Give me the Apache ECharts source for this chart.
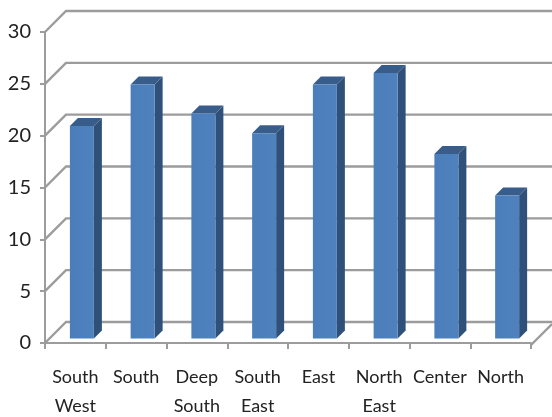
<!DOCTYPE html>
<html>
<head>
<meta charset="utf-8">
<style>html,body{margin:0;padding:0;background:#fff}#chart{width:552px;height:417px}</style>
<script src="https://cdn.jsdelivr.net/npm/echarts@6/dist/echarts.min.js"></script>
</head>
<body>
<div id="chart"></div>
<script>
// Regional values shown as pseudo-3D columns
const categories = ['South\nWest', 'South', 'Deep\nSouth', 'South\nEast', 'East', 'North\nEast', 'Center', 'North'];
const values = [20.5, 24.5, 21.7, 19.8, 24.5, 25.6, 17.8, 13.8];
const gridTicks = [0, 5, 10, 15, 20, 25, 30];

const WALL_DX = 21, WALL_DY = -21;   // offset of the back wall from the axis plane
const BAR_DX = 6.5, BAR_DY = -4.5;   // offset of the columns from the axis plane
const BAR_W = 24, BAR_DEPTH = 8;
const LINE = '#9c9c9c', FONT = 'Lato, "Open Sans", sans-serif';

const chart = echarts.init(document.getElementById('chart'), null, { renderer: 'canvas' });

// Wall lines: a diagonal from the axis plus a horizontal along the back wall
function renderWall(params, api) {
  const p = api.coord([0, api.value(0)]);
  const left = params.coordSys.x, right = left + params.coordSys.width;
  const isFloor = api.value(0) === 0;
  const shapes = [{
    type: 'polyline',
    shape: { points: [[left, p[1]], [left + WALL_DX, p[1] + WALL_DY], [552, p[1] + WALL_DY]] },
    style: { fill: null, stroke: LINE, lineWidth: 2.4 }
  }];
  if (isFloor) {
    shapes.push({
      type: 'line',
      shape: { x1: right, y1: p[1] + 2, x2: right + WALL_DX, y2: p[1] + 2 + WALL_DY },
      style: { stroke: LINE, lineWidth: 2.4 }
    });
  }
  return { type: 'group', children: shapes };
}

// One column: front face, shaded side and top
function renderBar(params, api) {
  const top = api.coord([api.value(0), api.value(1)]);
  const base = api.coord([api.value(0), 0]);
  const x0 = top[0] + BAR_DX - BAR_W / 2, x1 = x0 + BAR_W;
  const y0 = top[1] + BAR_DY, y1 = base[1] + BAR_DY;
  const d = BAR_DEPTH;
  return {
    type: 'group',
    children: [
      { type: 'polygon', shape: { points: [[x1, y0], [x1 + d, y0 - d], [x1 + d, y1 - d], [x1, y1]] },
        style: { fill: '#2f5078' } },
      { type: 'polygon', shape: { points: [[x0, y0], [x0 + d, y0 - d], [x1 + d, y0 - d], [x1, y0]] },
        style: { fill: '#385d8a' } },
      { type: 'rect', shape: { x: x0, y: y0, width: BAR_W, height: y1 - y0 },
        style: { fill: new echarts.graphic.LinearGradient(0, 0, 1, 0, [
          { offset: 0, color: '#4a7ebb' }, { offset: 1, color: '#4f81bd' }
        ]) } }
    ]
  };
}

chart.setOption({
  animation: false,
  grid: { left: 45, right: 21, top: 32, bottom: 74, containLabel: false, outerBoundsMode: 'none' },
  xAxis: {
    type: 'category',
    data: categories,
    offset: 2,
    axisLine: { lineStyle: { color: LINE, width: 2 } },
    axisTick: { show: true, alignWithLabel: false, length: 6, lineStyle: { color: LINE, width: 2 } },
    axisLabel: { color: '#222', fontFamily: FONT, fontSize: 18, lineHeight: 29, margin: 18, interval: 0 }
  },
  yAxis: {
    type: 'value',
    min: 0,
    max: 30,
    interval: 5,
    axisLine: { show: true, lineStyle: { color: LINE, width: 2 } },
    axisTick: { show: true, length: 5, lineStyle: { color: LINE, width: 2 } },
    axisLabel: { color: '#222', fontFamily: FONT, fontSize: 20, margin: 14 },
    splitLine: { show: false }
  },
  series: [
    { type: 'custom', silent: true, z: 1, clip: false, renderItem: renderWall,
      data: gridTicks.map(v => [v]), encode: { y: 0 } },
    { type: 'custom', silent: true, z: 2, clip: false, renderItem: renderBar,
      data: values.map((v, i) => [i, v]), encode: { x: 0, y: 1 } }
  ]
});
</script>
</body>
</html>
